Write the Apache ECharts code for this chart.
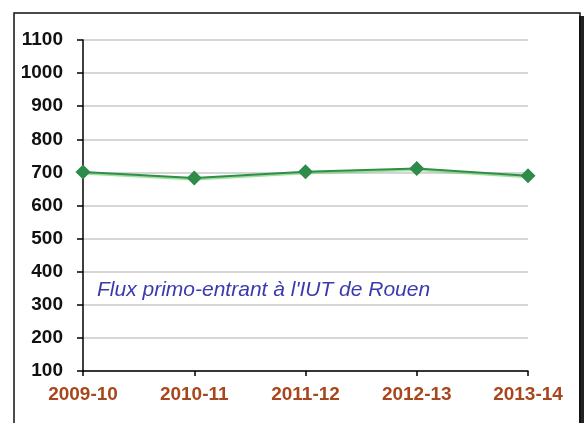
<!DOCTYPE html>
<html>
<head>
<meta charset="utf-8">
<script src="https://cdn.jsdelivr.net/npm/echarts@6/dist/echarts.min.js"></script>
<style>
html,body{margin:0;padding:0;background:#fff;}
#c{width:586px;height:423px;}
</style>
</head>
<body>
<div id="c"></div>
<script>
var categories = ['2009-10', '2010-11', '2011-12', '2012-13', '2013-14'];
var fluxValues = [701, 683, 702, 712, 690];
var yTicks = [100, 200, 300, 400, 500, 600, 700, 800, 900, 1000, 1100];
var annotation = "Flux primo-entrant à l'IUT de Rouen";

var chart = echarts.init(document.getElementById('c'), null, {renderer: 'canvas'});
chart.setOption({
  animation: false,
  backgroundColor: '#fff',
  grid: {left: 83, right: 58, top: 40, bottom: 52, containLabel: false},
  xAxis: {
    type: 'category',
    data: categories,
    boundaryGap: false,
    axisLine: {lineStyle: {color: '#000', width: 1.5}},
    axisTick: {show: true, length: 5, lineStyle: {color: '#000', width: 1.5}},
    axisLabel: {color: '#a8461c', fontFamily: 'Liberation Sans', fontWeight: 'bold', fontSize: 19, margin: 14},
    splitLine: {show: false}
  },
  yAxis: {
    type: 'value',
    min: yTicks[0],
    max: yTicks[yTicks.length - 1],
    interval: 100,
    axisLine: {show: true, lineStyle: {color: '#000', width: 1.5}},
    axisTick: {show: true, length: 6, lineStyle: {color: '#000', width: 1.5}},
    axisLabel: {color: '#111', fontFamily: 'Liberation Sans', fontWeight: 'bold', fontSize: 19, margin: 20,
      formatter: function (v) { return String(v); }},
    splitLine: {show: true, lineStyle: {color: '#c8c8c8', width: 1.5}}
  },
  series: [{
    type: 'line',
    data: fluxValues,
    symbol: 'diamond',
    symbolSize: 15,
    itemStyle: {color: '#2e8b4a'},
    lineStyle: {color: '#2f8f45', width: 2, shadowColor: 'rgba(110,200,110,0.7)', shadowOffsetY: 1.5, shadowBlur: 1}
  }],
  graphic: [
    {type: 'rect', shape: {x: 579, y: 16, width: 5, height: 420}, style: {fill: '#222'}, z: 0},
    {type: 'rect', shape: {x: 14, y: 13, width: 566, height: 430}, style: {fill: 'none', stroke: '#111', lineWidth: 1.5}, z: 1},
    {type: 'text', left: 97, top: 280, style: {text: annotation, fill: '#3a3aae', font: 'italic 21px "Liberation Sans"'}, z: 10}
  ]
});
</script>
</body>
</html>
